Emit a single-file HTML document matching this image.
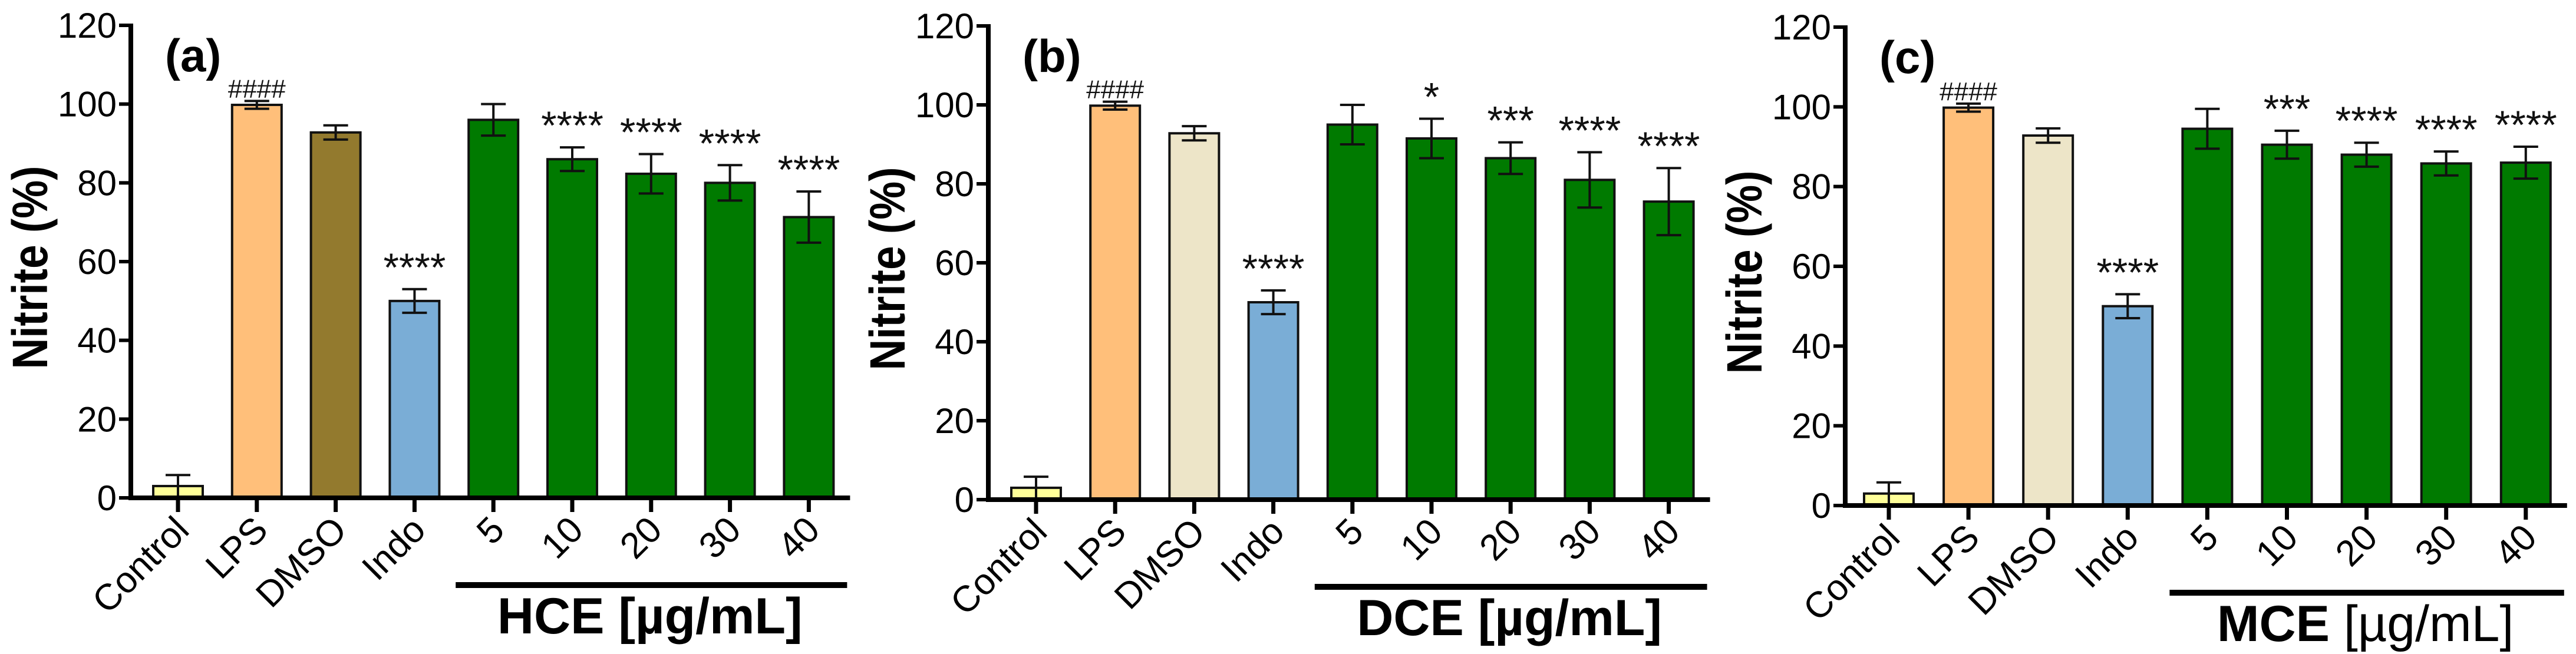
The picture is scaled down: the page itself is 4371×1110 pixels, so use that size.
<!DOCTYPE html>
<html><head><meta charset="utf-8"><style>
html,body{margin:0;padding:0;background:#fff;}
svg{display:block;font-family:"Liberation Sans",Arial,sans-serif;}
</style></head><body>
<svg id="chart" width="4371" height="1110" viewBox="0 0 4371 1110" xmlns="http://www.w3.org/2000/svg"></svg>
<script>
const categories = ["Control","LPS","DMSO","Indo","5","10","20","30","40"];
const yTicks = [0,20,40,60,80,100,120];
const valuesA = [3,99.8,92.8,50,96,86,82.3,80,71.3];
const errorsA = [2.8,1,1.8,3,4,3,5,4.5,6.5];
const starsA = ["","####","","****","","****","****","****","****"];
const valuesB = [3,99.8,92.8,50,95,91.5,86.5,81,75.5];
const errorsB = [2.8,1,1.8,3,5,5,4,7,8.5];
const starsB = ["","####","","****","","*","***","****","****"];
const valuesC = [3,99.8,92.8,50,94.5,90.5,88,85.8,86];
const errorsC = [2.8,1,1.8,3,5,3.5,3,3,4];
const starsC = ["","####","","****","","***","****","****","****"];

const NS="http://www.w3.org/2000/svg";
const svg=document.getElementById('chart');
function mk(tag,attrs,parent){const e=document.createElementNS(NS,tag);for(const k in attrs)e.setAttribute(k,attrs[k]);(parent||svg).appendChild(e);return e;}

const panels=[
 {id:'a',axisX:222,y0:845,y120:43,first:302,step:133.8,vals:valuesA,errs:errorsA,stars:starsA,dmso:'#937a2e',grp:'HCE',grpBoldAll:true},
 {id:'b',axisX:1677,y0:848,y120:44,first:1758,step:134.2,vals:valuesB,errs:errorsB,stars:starsB,dmso:'#ede5c8',grp:'DCE',grpBoldAll:true},
 {id:'c',axisX:3131,y0:858,y120:46,first:3205,step:135.1,vals:valuesC,errs:errorsC,stars:starsC,dmso:'#ede5c8',grp:'MCE',grpBoldAll:false}
];
const baseColors=['#ffff99','#ffbf7a',null,'#7aadd6','#007a00','#007a00','#007a00','#007a00','#007a00'];

panels.forEach(p=>{
  const g=mk('g',{});
  
  
  const y=v=>p.y0-(v/120)*(p.y0-p.y120);
  const x=i=>p.first+i*p.step;
  const axisEnd=x(8)+70;
  categories.forEach((c,i)=>{
    const v=p.vals[i], e=p.errs[i];
    const col=i===2?p.dmso:baseColors[i];
    const r=mk('rect',{x:x(i)-42,y:y(v),width:84,height:p.y0-y(v),fill:col,stroke:'#111','stroke-width':4},g);
    
    
    const eb=mk('path',{d:`M${x(i)} ${y(v-e)}V${y(v+e)}M${x(i)-21} ${y(v+e)}H${x(i)+21}M${x(i)-21} ${y(v-e)}H${x(i)+21}`,stroke:'#111','stroke-width':4,fill:'none'},g);
    
    
    if(p.stars[i]){
      const isHash=p.stars[i][0]==='#';
      const t=mk('text',{x:x(i),y:y(v+e)-(isHash?6:14),'text-anchor':'middle','font-size':isHash?44:68,fill:'#111'},g);
      t.textContent=p.stars[i];
      
      
    }
    const tk=mk('line',{x1:x(i),x2:x(i),y1:p.y0,y2:p.y0+24,stroke:'#000','stroke-width':7},g);
    
    
    const lx=x(i)+22, ly=p.y0+58;
    const lt=mk('text',{x:lx,y:ly,'text-anchor':'end','font-size':62,fill:'#000',transform:`rotate(-45 ${lx} ${ly})`},g);
    lt.textContent=c;
    
    
  });
  const ya=mk('line',{x1:p.axisX,x2:p.axisX,y1:p.y120-3,y2:p.y0+3,stroke:'#000','stroke-width':8},g);
  
  
  const xa=mk('line',{x1:p.axisX-4,x2:axisEnd,y1:p.y0,y2:p.y0,stroke:'#000','stroke-width':8},g);
  
  
  yTicks.forEach(t=>{
    const tl=mk('line',{x1:p.axisX-20,x2:p.axisX,y1:y(t),y2:y(t),stroke:'#000','stroke-width':6},g);
    
    
    const tt=mk('text',{x:p.axisX-24,y:y(t)+21,'text-anchor':'end','font-size':60,fill:'#000'},g);
    tt.textContent=t;
    
    
  });
  const cy=(p.y0+p.y120)/2+10, tx=p.axisX-142;
  const yt=mk('text',{x:tx,y:cy,'text-anchor':'middle','font-size':84,'font-weight':'bold',fill:'#000',textLength:345,lengthAdjust:'spacingAndGlyphs',transform:`rotate(-90 ${tx} ${cy})`},g);
  yt.textContent='Nitrite (%)';
  
  
  const pl=mk('text',{x:p.axisX+58,y:p.y120+78,'font-size':78,'font-weight':'bold',fill:'#000'},g);
  pl.textContent='('+p.id+')';
  
  
  const gb=mk('line',{x1:x(4)-64,x2:axisEnd-5,y1:p.y0+148,y2:p.y0+148,stroke:'#000','stroke-width':10},g);
  
  
  const gt=mk('text',{x:(x(4)+x(8))/2-2,y:p.y0+230,'text-anchor':'middle','font-size':86,fill:'#000'},g);
  
  
  const t1=mk('tspan',{'font-weight':'bold'},gt); t1.textContent=p.grp+' ';
  const t2=mk('tspan',{'font-weight':p.grpBoldAll?'bold':'normal'},gt); t2.textContent='[µg/mL]';
});
</script>
</body></html>
